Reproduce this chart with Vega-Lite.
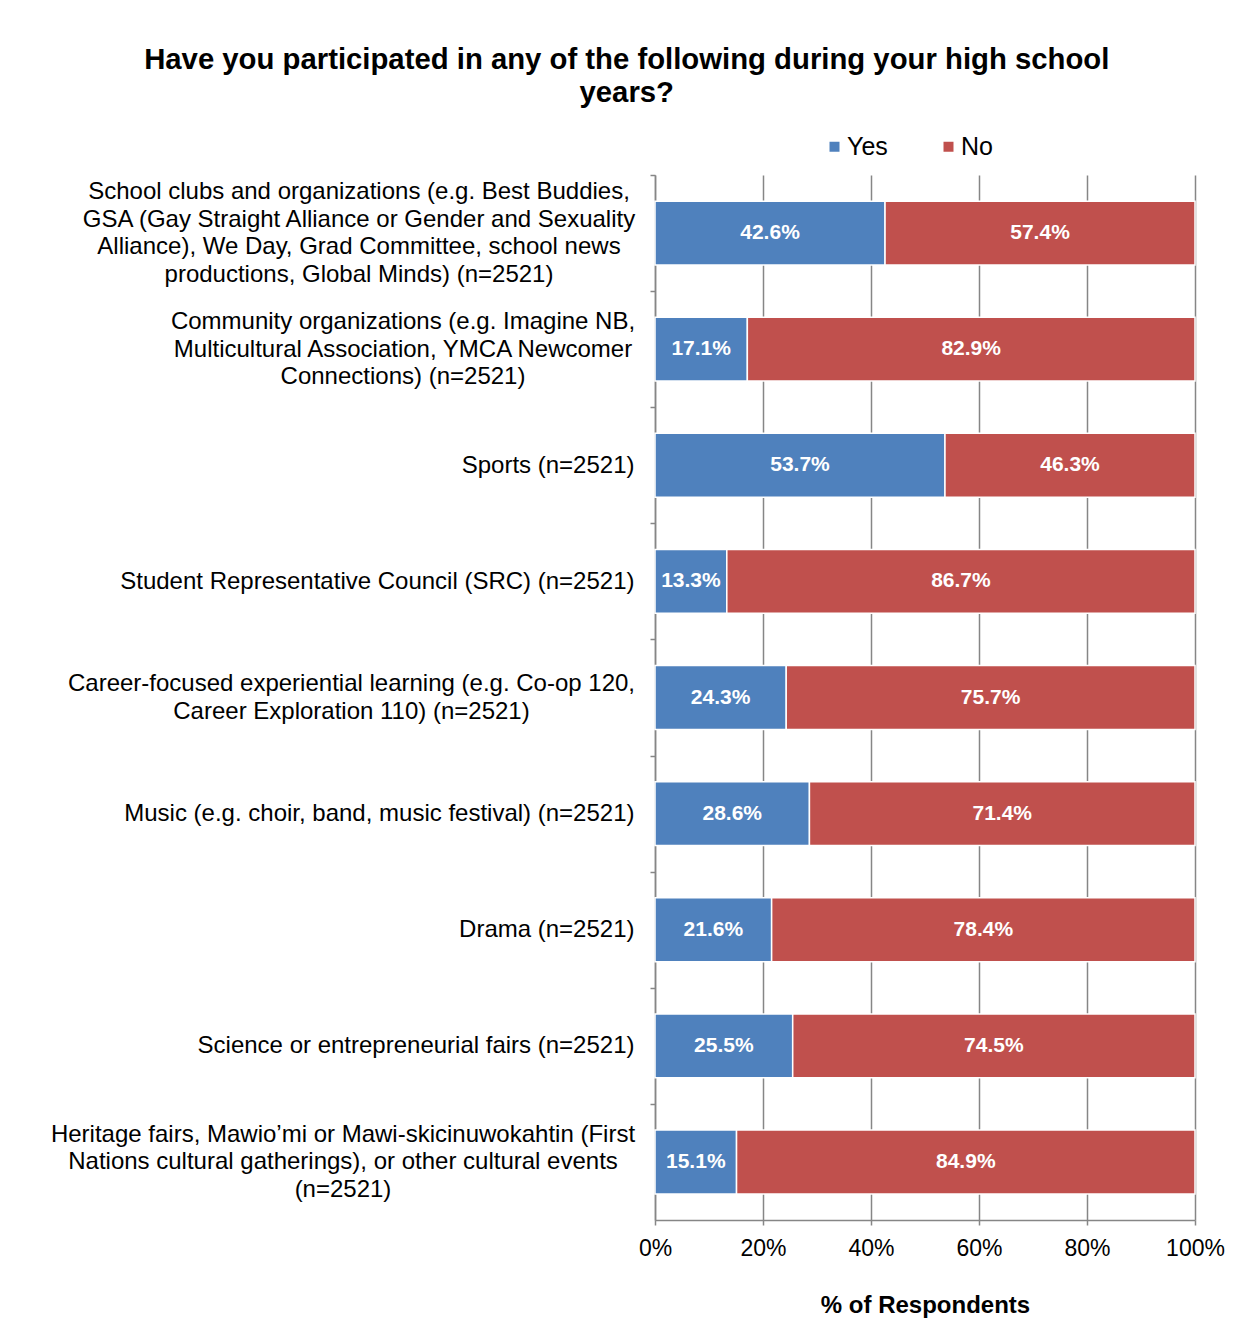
{
  "$schema": "https://vega.github.io/schema/vega-lite/v6.json",
  "width": 540,
  "height": 1045,
  "padding": {"left": 47, "top": 45, "right": 20, "bottom": 20},
  "background": "white",
  "config": {"font": "Liberation Sans", "view": {"stroke": null}},
  "title": {
    "text": ["Have you participated in any of the following during your high school", "years?"],
    "fontSize": 29.3,
    "fontWeight": "bold",
    "color": "black",
    "anchor": "middle",
    "frame": "bounds",
    "lineHeight": 33,
    "offset": 26,
    "dx": -9
  },
  "data": {
    "values": [
      {"cat": "School clubs and organizations (e.g. Best Buddies,|GSA (Gay Straight Alliance or Gender and Sexuality|Alliance), We Day, Grad Committee, school news|productions, Global Minds) (n=2521)", "answer": "Yes", "value": 0.426},
      {"cat": "School clubs and organizations (e.g. Best Buddies,|GSA (Gay Straight Alliance or Gender and Sexuality|Alliance), We Day, Grad Committee, school news|productions, Global Minds) (n=2521)", "answer": "No", "value": 0.574},
      {"cat": "Community organizations (e.g. Imagine NB,|Multicultural Association, YMCA Newcomer|Connections) (n=2521)", "answer": "Yes", "value": 0.171},
      {"cat": "Community organizations (e.g. Imagine NB,|Multicultural Association, YMCA Newcomer|Connections) (n=2521)", "answer": "No", "value": 0.829},
      {"cat": "Sports (n=2521)", "answer": "Yes", "value": 0.537},
      {"cat": "Sports (n=2521)", "answer": "No", "value": 0.463},
      {"cat": "Student Representative Council (SRC) (n=2521)", "answer": "Yes", "value": 0.133},
      {"cat": "Student Representative Council (SRC) (n=2521)", "answer": "No", "value": 0.867},
      {"cat": "Career-focused experiential learning (e.g. Co-op 120,|Career Exploration 110) (n=2521)", "answer": "Yes", "value": 0.243},
      {"cat": "Career-focused experiential learning (e.g. Co-op 120,|Career Exploration 110) (n=2521)", "answer": "No", "value": 0.757},
      {"cat": "Music (e.g. choir, band, music festival) (n=2521)", "answer": "Yes", "value": 0.286},
      {"cat": "Music (e.g. choir, band, music festival) (n=2521)", "answer": "No", "value": 0.714},
      {"cat": "Drama (n=2521)", "answer": "Yes", "value": 0.216},
      {"cat": "Drama (n=2521)", "answer": "No", "value": 0.784},
      {"cat": "Science or entrepreneurial fairs (n=2521)", "answer": "Yes", "value": 0.255},
      {"cat": "Science or entrepreneurial fairs (n=2521)", "answer": "No", "value": 0.745},
      {"cat": "Heritage fairs, Mawio’mi or Mawi-skicinuwokahtin  (First|Nations cultural gatherings), or other cultural events|(n=2521)", "answer": "Yes", "value": 0.151},
      {"cat": "Heritage fairs, Mawio’mi or Mawi-skicinuwokahtin  (First|Nations cultural gatherings), or other cultural events|(n=2521)", "answer": "No", "value": 0.849}
    ]
  },
  "transform": [
    {"stack": "value", "groupby": ["cat"], "sort": [{"field": "answer", "order": "descending"}], "as": ["v0", "v1"]},
    {"calculate": "(datum.v0 + datum.v1) / 2", "as": "mid"}
  ],
  "encoding": {
    "y": {
      "field": "cat",
      "type": "nominal",
      "sort": null,
      "scale": {"paddingInner": 0.45, "paddingOuter": 0.225},
      "axis": {
        "title": null,
        "labelExpr": "split(datum.value, '|')",
        "labelFontSize": 24,
        "labelLineHeight": 27.7,
        "labelColor": "black",
        "labelLimit": 800,
        "labelPadding": {
          "condition": [
            {"test": "indexof(datum.value, 'School clubs') == 0", "value": 291.5},
            {"test": "indexof(datum.value, 'Community organizations') == 0", "value": 247.5},
            {"test": "indexof(datum.value, 'Career-focused') == 0", "value": 299},
            {"test": "indexof(datum.value, 'Heritage fairs') == 0", "value": 307.5}
          ],
          "value": 16
        },
        "labelAlign": {
          "condition": {"test": "length(split(datum.value, '|')) > 1", "value": "center"},
          "value": "right"
        },
        "labelBaseline": "middle",
        "tickOffset": -58.06,
        "labelOffset": {
          "condition": [
            {"test": "length(split(datum.value, '|')) == 4", "value": 16.51},
            {"test": "length(split(datum.value, '|')) == 3", "value": 30.36},
            {"test": "length(split(datum.value, '|')) == 2", "value": 44.21}
          ],
          "value": 58.06
        },
        "tickSize": 5,
        "tickColor": "#868686",
        "tickWidth": 1.5,
        "domainColor": "#868686",
        "domainWidth": 1.5,
        "grid": false
      }
    }
  },
  "layer": [
    {
      "mark": {"type": "bar", "stroke": "white", "strokeWidth": 1.5},
      "encoding": {
        "x": {
          "field": "v0",
          "type": "quantitative",
          "scale": {"domain": [0, 1], "nice": false},
          "axis": {
            "title": "% of Respondents",
            "titleFontSize": 24,
            "titleFontWeight": "bold",
            "titleColor": "black",
            "titlePadding": 33,
            "format": ".0%",
            "values": [0, 0.2, 0.4, 0.6, 0.8, 1],
            "labelFontSize": 23,
            "labelColor": "black",
            "labelPadding": 12,
            "labelFlush": false,
            "tickSize": 5,
            "tickColor": "#868686",
            "tickWidth": 1.5,
            "domainColor": "#868686",
            "domainWidth": 1.5,
            "grid": true,
            "gridColor": "#868686",
            "gridWidth": 1.5
          }
        },
        "x2": {"field": "v1"},
        "color": {
          "field": "answer",
          "type": "nominal",
          "scale": {"domain": ["Yes", "No"], "range": ["#4F81BD", "#C0504D"]},
          "legend": {
            "title": null,
            "orient": "none",
            "direction": "horizontal",
            "legendX": 167,
            "legendY": -41,
            "symbolType": "square",
            "symbolSize": 100,
            "symbolStrokeWidth": 0,
            "labelFontSize": 25,
            "labelColor": "black",
            "labelOffset": 0,
            "columnPadding": 48,
            "padding": 0
          }
        }
      }
    },
    {
      "mark": {"type": "text", "color": "white", "fontWeight": "bold", "fontSize": 21, "baseline": "middle"},
      "encoding": {
        "x": {"field": "mid", "type": "quantitative"},
        "text": {"field": "value", "type": "quantitative", "format": ".1%"}
      }
    }
  ]
}
